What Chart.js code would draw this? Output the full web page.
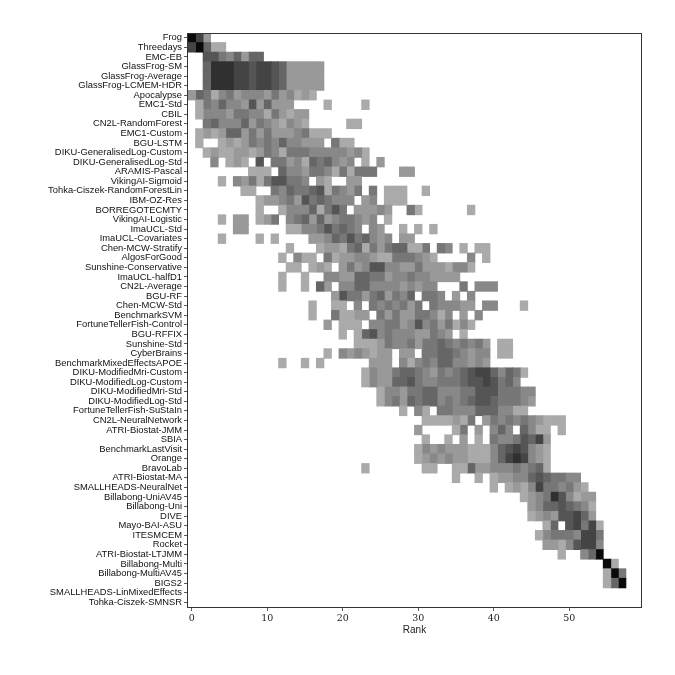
<!DOCTYPE html>
<html>
<head>
<meta charset="utf-8">
<script src="https://cdn.jsdelivr.net/npm/chart.js@4.4.1/dist/chart.umd.min.js"></script>
<style>
  html, body { margin:0; padding:0; background:#fff; }
  #wrap { width:675px; height:675px; }
</style>
</head>
<body>
<div id="wrap"><canvas id="chart" width="675" height="675"></canvas></div>
<script>
const teams = [
  'Frog','Threedays','EMC-EB','GlassFrog-SM','GlassFrog-Average','GlassFrog-LCMEM-HDR',
  'Apocalypse','EMC1-Std','CBIL','CN2L-RandomForest','EMC1-Custom','BGU-LSTM',
  'DIKU-GeneralisedLog-Custom','DIKU-GeneralisedLog-Std','ARAMIS-Pascal','VikingAI-Sigmoid',
  'Tohka-Ciszek-RandomForestLin','IBM-OZ-Res','BORREGOTECMTY','VikingAI-Logistic','ImaUCL-Std',
  'ImaUCL-Covariates','Chen-MCW-Stratify','AlgosForGood','Sunshine-Conservative','ImaUCL-halfD1',
  'CN2L-Average','BGU-RF','Chen-MCW-Std','BenchmarkSVM','FortuneTellerFish-Control','BGU-RFFIX',
  'Sunshine-Std','CyberBrains','BenchmarkMixedEffectsAPOE','DIKU-ModifiedMri-Custom',
  'DIKU-ModifiedLog-Custom','DIKU-ModifiedMri-Std','DIKU-ModifiedLog-Std','FortuneTellerFish-SuStaIn',
  'CN2L-NeuralNetwork','ATRI-Biostat-JMM','SBIA','BenchmarkLastVisit','Orange','BravoLab',
  'ATRI-Biostat-MA','SMALLHEADS-NeuralNet','Billabong-UniAV45','Billabong-Uni','DIVE',
  'Mayo-BAI-ASU','ITESMCEM','Rocket','ATRI-Biostat-LTJMM','Billabong-Multi','Billabong-MultiAV45',
  'BIGS2','SMALLHEADS-LinMixedEffects','Tohka-Ciszek-SMNSR'
];

const ranks = [0,1,2,3,4,5,6,7,8,9,10,11,12,13,14,15,16,17,18,19,20,21,22,23,24,25,26,27,28,29,
  30,31,32,33,34,35,36,37,38,39,40,41,42,43,44,45,46,47,48,49,50,51,52,53,54,55,56,57];

const xTicks = [0, 10, 20, 30, 40, 50];

// first rank shown for each team
const rowStart = [0,0,2,2,2,2, 0,1,1,2,1,1, 2,3,8,4, 7,9,9,4,6, 4,13,12,13,12,
  12,19,16,16,18,20, 22,18,12,23, 23,25,25,28, 31,30,31,30,30,23,
  35,40,44,45,45, 47,46,47,49,55,55, 55,0,0];

// frequency level per rank from rowStart on (0 = none, 9 = all)
const rowCells = [
  '972',
  '79511',
  '66435255',
  '5888776776522222',
  '5888776776522222',
  '5888776776522222',
  '25413423332423121',
  '14353326252220000100001',
  '133324433142122',
  '453335243213210000011',
  '121255242422234111',
  '100121243435332220411',
  '1211221243144433333231',
  '30121060442315453230102',
  '1110533244314144400022',
  '1032414664430210022',
  '1100435445614324040111001',
  '12234264543330230111',
  '10013335146402223200410000001',
  '10220124034525234432301',
  '220000011334645430320010101',
  '10000101000022354645323022',
  '100012214514245511404301011',
  '1031104122332114443210000301',
  '1101210242366332242221331',
  '100100332255442334332222',
  '10010520335533332323300040333',
  '2644245243504430203',
  '10011030434342404333220330001',
  '10041122042422443130203',
  '20111033442363424131',
  '10156343332243201',
  '111243342445434342011',
  '1032321220220445543233011',
  '1001010000002220313435533232',
  '1322455432434567753541',
  '132255643344456676453',
  '133244553334466644433',
  '134254553434566544432',
  '10310443335553311',
  '1111214024343432111',
  '20000140203530531101',
  '10010201043346572',
  '132322211135676321',
  '123232211135787321',
  '1000000011001152233343451',
  '10010122335654433',
  '1012137443421',
  '1234863122',
  '235565431',
  '123266752',
  '15067471',
  '134443774',
  '22136773',
  '100359',
  '91',
  '194',
  '159',
  '',
  ''
];

const greys = ['#ffffff','#aaaaaa','#999999','#888888','#777777','#666666','#555555','#444444','#303030','#0a0a0a'];

function levelAt(i, r) {
  const k = r - rowStart[i];
  const s = rowCells[i];
  return (k >= 0 && k < s.length) ? Number(s[k]) : 0;
}

const datasets = ranks.map(r => ({
  data: teams.map((t, i) => levelAt(i, r) > 0 ? [r - 0.5, r + 0.5] : null),
  backgroundColor: teams.map((t, i) => greys[levelAt(i, r)]),
  borderWidth: 0,
  inflateAmount: 0.4,
  barPercentage: 1,
  categoryPercentage: 1,
  grouped: false
}));

const frame = {
  id: 'frame',
  afterDraw(chart) {
    const a = chart.chartArea, ctx = chart.ctx;
    ctx.save();
    ctx.strokeStyle = '#333';
    ctx.lineWidth = 1;
    ctx.strokeRect(Math.round(a.left) - 0.5, Math.round(a.top) + 0.5, Math.round(a.right - a.left) + 1, Math.round(a.bottom - a.top));
    ctx.restore();
  }
};

new Chart(document.getElementById('chart'), {
  type: 'bar',
  data: { labels: teams, datasets },
  plugins: [frame],
  options: {
    indexAxis: 'y',
    responsive: false,
    animation: false,
    layout: { padding: { left: 0, right: 34, top: 33, bottom: 39 } },
    plugins: { legend: { display: false }, tooltip: { enabled: false } },
    scales: {
      x: {
        type: 'linear', min: -0.5, max: 59.5,
        afterBuildTicks: s => { s.ticks = xTicks.map(v => ({ value: v })); },
        afterFit: s => { s.height = 29; },
        grid: { drawOnChartArea: false, drawTicks: true, tickLength: 4, color: '#333', lineWidth: 0.8 },
        border: { display: false },
        ticks: { color: '#222', padding: 2, maxRotation: 0, font: { family: 'DejaVu Serif', size: 9.5 } },
        title: { display: true, text: 'Rank', color: '#222', padding: 0, font: { family: 'Liberation Sans', size: 10 } }
      },
      y: {
        afterFit: s => { s.width = 188; },
        grid: { drawOnChartArea: false, drawTicks: true, tickLength: 4, offset: false, color: '#333', lineWidth: 0.8 },
        border: { display: false },
        ticks: { color: '#111', padding: 2, autoSkip: false, font: { family: 'Liberation Sans', size: 9.4 } }
      }
    }
  }
});
</script>
</body>
</html>
